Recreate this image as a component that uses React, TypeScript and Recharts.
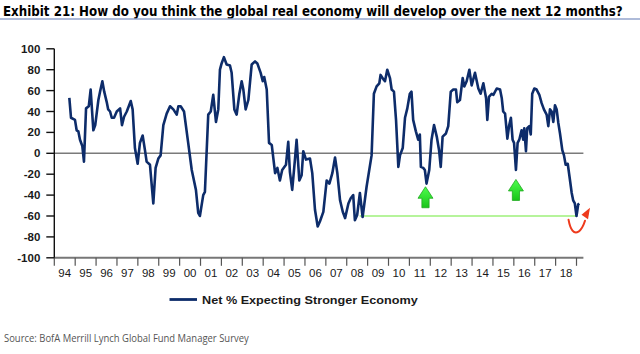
import React, { useLayoutEffect, useRef, useState } from 'react';
import { LineChart, Line, XAxis, YAxis, ReferenceLine, ReferenceDot } from 'recharts';

const TITLE = 'Exhibit 21: How do you think the global real economy will develop over the next 12 months?';
const SERIES_NAME = 'Net % Expecting Stronger Economy';
const SOURCE = 'Source:  BofA Merrill Lynch Global Fund Manager Survey';

const dates: number[] = [
  1994.72, 1994.8, 1994.99, 1995.07, 1995.15, 1995.23, 1995.34, 1995.42, 1995.52, 1995.65,
  1995.74, 1995.87, 1995.96, 1996.11, 1996.19, 1996.3, 1996.39, 1996.51, 1996.58, 1996.67,
  1996.75, 1996.86, 1996.99, 1997.15, 1997.24, 1997.34, 1997.47, 1997.66, 1997.75, 1997.86,
  1997.99, 1998.1, 1998.23, 1998.34, 1998.42, 1998.58, 1998.74, 1998.85, 1998.98, 1999.09,
  1999.22, 1999.38, 1999.54, 1999.7, 1999.86, 1999.94, 2000.05, 2000.21, 2000.41, 2000.58,
  2000.78, 2000.89, 2000.97, 2001.13, 2001.21, 2001.37, 2001.49, 2001.61, 2001.74, 2001.85,
  2001.93, 2002.01, 2002.12, 2002.25, 2002.41, 2002.49, 2002.62, 2002.73, 2002.86, 2002.97,
  2003.05, 2003.16, 2003.29, 2003.45, 2003.61, 2003.72, 2003.88, 2003.98, 2004.05, 2004.17,
  2004.28, 2004.41, 2004.57, 2004.68, 2004.8, 2004.91, 2005.09, 2005.2, 2005.28, 2005.39,
  2005.52, 2005.6, 2005.73, 2005.84, 2005.92, 2006.05, 2006.24, 2006.35, 2006.48, 2006.61,
  2006.72, 2006.88, 2007.04, 2007.17, 2007.31, 2007.44, 2007.55, 2007.68, 2007.81, 2007.92,
  2008.08, 2008.19, 2008.31, 2008.39, 2008.5, 2008.63, 2008.76, 2008.95, 2009.19, 2009.3,
  2009.43, 2009.56, 2009.62, 2009.75, 2009.83, 2009.94, 2010.07, 2010.15, 2010.26, 2010.36,
  2010.47, 2010.55, 2010.68, 2010.79, 2010.9, 2011.02, 2011.1, 2011.18, 2011.31, 2011.42,
  2011.5, 2011.55, 2011.66, 2011.74, 2011.82, 2011.95, 2012.06, 2012.18, 2012.31, 2012.42,
  2012.5, 2012.59, 2012.75, 2012.86, 2012.98, 2013.1, 2013.23, 2013.29, 2013.42, 2013.55,
  2013.63, 2013.74, 2013.87, 2013.98, 2014.14, 2014.3, 2014.41, 2014.54, 2014.67, 2014.73,
  2014.81, 2014.94, 2015.02, 2015.18, 2015.34, 2015.42, 2015.49, 2015.58, 2015.69, 2015.77,
  2015.86, 2015.94, 2016.01, 2016.1, 2016.18, 2016.26, 2016.37, 2016.45, 2016.5, 2016.58,
  2016.64, 2016.74, 2016.81, 2016.88, 2016.98, 2017.09, 2017.22, 2017.33, 2017.44, 2017.57,
  2017.65, 2017.73, 2017.81, 2017.89, 2017.97, 2018.05, 2018.13, 2018.21, 2018.32, 2018.4,
  2018.48, 2018.58, 2018.69, 2018.77, 2018.84, 2018.92, 2019.0, 2019.08, 2019.13,
];

const values: number[] = [
  53, 34, 32, 22, 21, 13, 7, -8, 43, 45,
  61, 22, 27, 51, 59, 69, 59, 49, 42, 40,
  34, 34, 40, 43, 27, 35, 40, 50, 42, 5,
  -10, 10, 17, 3, -8, -11, -48, -14, -5, -2,
  27, 38, 45, 42, 37, 45, 45, 40, 10, -16,
  -35, -57, -60, -40, -37, 37, 40, 56, 30, 42,
  80, 86, 92, 85, 84, 77, 42, 37, 57, 69,
  61, 42, 51, 85, 88, 86, 77, 69, 73, 61,
  10, 8, -19, -14, -26, -16, -11, 11, -18, -35,
  -6, 13, -26, -21, 2, -6, -5, -19, -54, -70,
  -65, -56, -26, -29, -19, -4, -19, -45, -56, -62,
  -48, -43, -40, -64, -59, -38, -61, -32, -2, 57,
  64, 67, 75, 71, 69, 80, 72, 61, 59, 32,
  -13, -2, 5, 34, 43, 57, 59, 32, 21, 13,
  18, -13, -14, -16, -29, -16, 13, 27, 16, 3,
  -13, 16, 19, 26, 59, 61, 61, 49, 51, 72,
  64, 69, 80, 65, 77, 62, 57, 67, 53, 32,
  54, 57, 56, 62, 61, 53, 40, 38, 14, 26,
  34, 13, 10, -16, 10, 13, 22, 13, 24, 2,
  24, 26, 18, 57, 62, 61, 56, 48, 42, 37,
  26, 42, 40, 30, 46, 42, 29, 19, 3, -2,
  -11, -10, -26, -38, -45, -48, -60, -49, -48,
];

const yTicks: number[] = [-100, -80, -60, -40, -20, 0, 20, 40, 60, 80, 100];
const yearTicks: number[] = [
  1994, 1995, 1996, 1997, 1998, 1999, 2000, 2001, 2002, 2003, 2004, 2005, 2006,
  2007, 2008, 2009, 2010, 2011, 2012, 2013, 2014, 2015, 2016, 2017, 2018, 2019,
];

// annotations (data coordinates)
const greenLineStart = 2008.62;
const greenLineEnd = 2019.0;
const greenLineLevel = -60;
const arrowTips: { x: number; y: number }[] = [
  { x: 2011.77, y: -32 },
  { x: 2016.1, y: -25 },
];
const redArrowAt = { x: 2019.0, y: -75 };

const data = dates.map((t, i) => ({ t, v: values[i] }));

const NAVY = '#0d2c6a';

// Text squeezed horizontally to a target width (measured after layout)
const FitText = (props: {
  x: number; y: number; width: number; fontSize: number; fontWeight?: string;
  fill: string; fontFamily: string; children: string;
}) => {
  const ref = useRef<SVGTextElement | null>(null);
  const [sx, setSx] = useState(1);
  useLayoutEffect(() => {
    if (ref.current) {
      const w = ref.current.getComputedTextLength();
      if (w > 0) setSx(props.width / w);
    }
  }, [props.width, props.children]);
  return (
    <text ref={ref} x={0} y={0} transform={`translate(${props.x} ${props.y}) scale(${sx} 1)`}
      fontSize={props.fontSize} fontWeight={props.fontWeight} fill={props.fill}
      fontFamily={props.fontFamily}>
      {props.children}
    </text>
  );
};

const XTick = (props: any) => {
  const { x, y, payload } = props;
  const yr = payload.value as number;
  if (yr >= 2019) return <g />;
  const label = String(yr).slice(2);
  return (
    <text x={x + 10.45} y={y} dy="0.71em" textAnchor="middle" fontSize={11.5} fill="#1a1a1a"
      fontFamily="Liberation Sans, Arial, sans-serif">
      {label}
    </text>
  );
};

const GreenArrow = (props: any) => {
  const { cx, cy } = props;
  if (cx == null || cy == null) return <g />;
  const hw = 7.5;
  const sw = 3.6;
  const headH = 11.5;
  const total = 21;
  const d = `M ${cx} ${cy} L ${cx + hw} ${cy + headH} L ${cx + sw} ${cy + headH} L ${cx + sw} ${cy + total} L ${cx - sw} ${cy + total} L ${cx - sw} ${cy + headH} L ${cx - hw} ${cy + headH} Z`;
  return (
    <g>
      <defs>
        <linearGradient id="garrow" x1="0" y1="0" x2="0" y2="1">
          <stop offset="0" stopColor="#4dff4d" />
          <stop offset="1" stopColor="#18c418" />
        </linearGradient>
      </defs>
      <path d={d} fill="url(#garrow)" stroke="#1faa1f" strokeWidth={0.8} strokeLinejoin="round" />
    </g>
  );
};

const RedArrow = (props: any) => {
  const { cx, cy } = props;
  if (cx == null || cy == null) return <g />;
  const d = `M ${cx - 8} ${cy - 12} Q ${cx - 5} ${cy + 4} ${cx + 2} ${cy} Q ${cx + 6} ${cy - 3} ${cx + 8.5} ${cy - 11}`;
  const tip = { x: cx + 13.5, y: cy - 24 };
  const head = `M ${tip.x} ${tip.y} L ${cx + 11.5} ${cy - 12.5} L ${cx + 5} ${cy - 17} Z`;
  return (
    <g>
      <path d={d} fill="none" stroke="#ee3a1c" strokeWidth={2} strokeLinecap="round" />
      <path d={head} fill="#ee3a1c" />
    </g>
  );
};

export default function App() {
  return (
    <div style={{ position: 'absolute', left: 0, top: 0, width: 640, height: 354, background: '#fff', overflow: 'hidden' }}>
      <svg width={640} height={30} style={{ position: 'absolute', left: 0, top: 0 }}>
        <FitText x={3} y={15.8} width={620} fontSize={14.5} fontWeight="bold" fill="#000"
          fontFamily="Liberation Sans Narrow, DejaVu Sans Condensed, Arial Narrow, sans-serif">
          {TITLE}
        </FitText>
        <line x1={0} x2={640} y1={19} y2={19} stroke="#93a5cc" strokeWidth={1.6} />
      </svg>
      <div style={{ position: 'absolute', left: 0, top: 0 }}>
        <LineChart width={640} height={354} data={data}
          margin={{ top: 48.8, right: 56.6, bottom: 66.2, left: 0 }}>
          <XAxis dataKey="t" type="number" domain={[1994, 2019.33]} ticks={yearTicks}
            allowDataOverflow interval={0} tick={<XTick />} tickSize={8} tickMargin={3}
            axisLine={{ stroke: '#777', strokeWidth: 2 }} tickLine={{ stroke: '#555', strokeWidth: 1.2 }}
            height={30} />
          <YAxis type="number" domain={[-100, 100]} ticks={yTicks} interval={0} width={54.3}
            tickSize={8} tickMargin={6}
            axisLine={{ stroke: '#111', strokeWidth: 1.4 }} tickLine={{ stroke: '#111', strokeWidth: 1.4 }}
            tick={{ fontSize: 11.5, fontWeight: 'bold', fill: '#1a1a1a', fontFamily: 'Liberation Sans, Arial, sans-serif' }} />
          <ReferenceLine y={0} stroke="#7a7a7a" strokeWidth={1.6} />
          <ReferenceLine segment={[{ x: greenLineStart, y: greenLineLevel }, { x: greenLineEnd, y: greenLineLevel }]}
            stroke="#9ef07a" strokeWidth={1.3} />
          <Line type="linear" dataKey="v" name={SERIES_NAME} stroke={NAVY} strokeWidth={2.6} dot={false}
            isAnimationActive={false} strokeLinejoin="round" />
          {arrowTips.map((a, i) => (
            <ReferenceDot key={i} x={a.x} y={a.y} r={1} shape={<GreenArrow />} ifOverflow="visible" />
          ))}
          <ReferenceDot x={redArrowAt.x} y={redArrowAt.y} r={1} shape={<RedArrow />} ifOverflow="visible" />
        </LineChart>
      </div>
      <svg width={640} height={354} style={{ position: 'absolute', left: 0, top: 0, pointerEvents: 'none' }}>
        <line x1={169.5} x2={197} y1={299.5} y2={299.5} stroke={NAVY} strokeWidth={2.8} />
        <FitText x={202} y={303.6} width={216} fontSize={11.5} fontWeight="bold" fill="#1a1a1a"
          fontFamily="Liberation Sans, Arial, sans-serif">
          {SERIES_NAME}
        </FitText>
        <FitText x={4} y={341.5} width={245} fontSize={10.5} fill="#555"
          fontFamily="Open Sans, Liberation Sans, sans-serif">
          {SOURCE}
        </FitText>
      </svg>
    </div>
  );
}
